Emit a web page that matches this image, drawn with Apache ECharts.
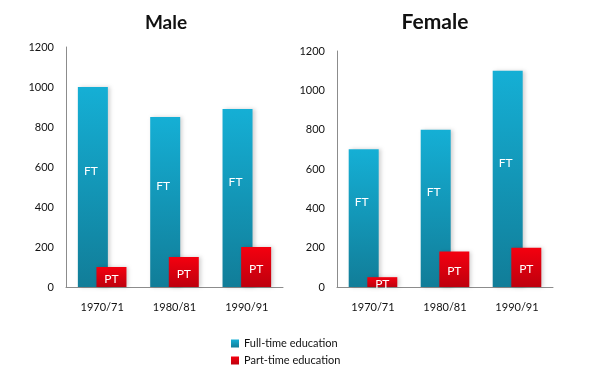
<!DOCTYPE html>
<html><head><meta charset="utf-8">
<script src="https://cdn.jsdelivr.net/npm/echarts@6/dist/echarts.min.js"></script>
<style>html,body{margin:0;padding:0;background:#fff}#c{width:614px;height:375px}</style>
</head><body><div id="c"></div>
<script>
const categories = ['1970/71', '1980/81', '1990/91'];
const maleFT = [1000, 850, 890];
const malePT = [100, 150, 200];
const femaleFT = [700, 800, 1100];
const femalePT = [50, 180, 200];
const yTicks = [0, 200, 400, 600, 800, 1000, 1200];
const titles = ['Male', 'Female'];
const legendNames = ['Full-time education', 'Part-time education'];

const font = 'Lato, "Open Sans", sans-serif';
const ftColor = new echarts.graphic.LinearGradient(0, 0, 0, 1, [
  {offset: 0, color: '#15AFD5'}, {offset: 1, color: '#117D98'}]);
const ptColor = new echarts.graphic.LinearGradient(0, 0, 0, 1, [
  {offset: 0, color: '#F4000F'}, {offset: 1, color: '#BE000E'}]);

function xAxis(i) {
  return {type: 'category', gridIndex: i, data: categories,
    axisLine: {lineStyle: {color: '#8c8c8c', width: 1}}, axisTick: {show: false},
    axisLabel: {color: '#111', fontFamily: font, fontSize: 11, margin: 15}};
}
function yAxis(i) {
  return {type: 'value', gridIndex: i, min: yTicks[0], max: yTicks[yTicks.length-1], interval: 200,
    axisLine: {show: true, lineStyle: {color: '#8c8c8c', width: 1}}, axisTick: {show: false},
    splitLine: {show: false},
    axisLabel: {color: '#111', fontFamily: font, fontSize: 11, margin: 12, formatter: v => String(v)}};
}
function bar(name, data, idx, color, label, isFT) {
  return {name, type: 'bar', xAxisIndex: idx, yAxisIndex: idx, data,
    barWidth: 30, barGap: '-38%', z: isFT ? 2 : 3,
    itemStyle: {color, shadowColor: 'rgba(0,0,0,0.18)', shadowBlur: 4, shadowOffsetX: 2, shadowOffsetY: 0},
    label: {show: true, position: 'inside', formatter: label, color: '#fff', fontFamily: font, fontSize: 12,
      offset: isFT ? [-2, -16] : [0, 2]}};
}
const chart = echarts.init(document.getElementById('c'), null, {renderer: 'canvas'});
chart.setOption({
  animation: false,
  title: [
    {text: titles[0], left: 161, top: 8, textAlign: 'center', textStyle: {fontFamily: font, fontSize: 19, fontWeight: 'bold', color: '#111'}},
    {text: titles[1], left: 430, top: 7, textAlign: 'center', textStyle: {fontFamily: font, fontSize: 21, fontWeight: 'bold', color: '#111'}}
  ],
  legend: {orient: 'vertical', left: 226, top: 333, itemWidth: 8, itemHeight: 8, itemGap: 6,
    icon: 'rect', data: legendNames, textStyle: {fontFamily: font, fontSize: 11, color: '#111'}},
  grid: [
    {left: 66, right: 331, top: 47, bottom: 88},
    {left: 337, right: 61, top: 51, bottom: 88}
  ],
  xAxis: [xAxis(0), xAxis(1)],
  yAxis: [yAxis(0), yAxis(1)],
  series: [
    bar(legendNames[0], maleFT, 0, ftColor, 'FT', true),
    bar(legendNames[1], malePT, 0, ptColor, 'PT', false),
    bar(legendNames[0], femaleFT, 1, ftColor, 'FT', true),
    bar(legendNames[1], femalePT, 1, ptColor, 'PT', false)
  ]
});
</script></body></html>
